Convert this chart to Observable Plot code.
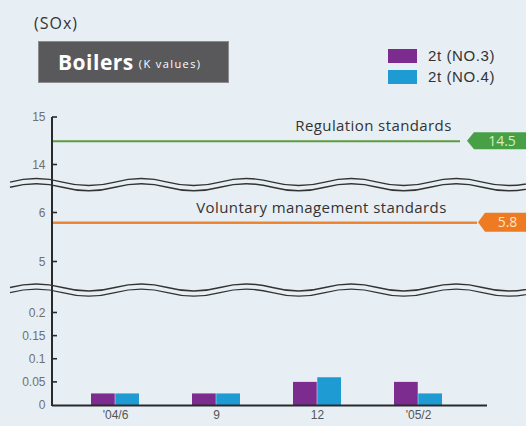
<!DOCTYPE html>
<html>
<head>
<meta charset="utf-8">
<script src="https://cdn.jsdelivr.net/npm/d3@7"></script>
<script src="https://cdn.jsdelivr.net/npm/@observablehq/plot@0.6"></script>
<style>
  body { margin: 0; background: #e7eff4; }
  #wrap { position: relative; width: 526px; height: 426px; overflow: hidden; font-family: "Open Sans", sans-serif; }
  #chart { position: absolute; left: 0; top: 0; }
  #chart g[aria-label^="x-axis"] text { font-size: 12px; fill: #555; }
  .unit { position: absolute; left: 34px; top: 12px; font-size: 16px; letter-spacing: 1px; color: #333; }
  .heading { position: absolute; left: 38px; top: 41px; width: 191px; height: 42px; box-sizing: border-box;
             background: #59595c; border: 1px solid #8c8c8f; display: flex; align-items: center; padding-left: 19px; color: #fff; }
  .heading b { font-size: 21px; font-weight: 700; letter-spacing: 0.5px; }
  .heading span { font-size: 11px; margin-left: 5px; letter-spacing: 1.4px; margin-top: 3px; }
  .key { position: absolute; left: 388px; display: flex; align-items: center; font-family: "Liberation Sans", Arial, sans-serif;
         font-size: 15px; letter-spacing: 0.6px; color: #333; }
  .key i { display: inline-block; width: 29px; height: 14px; margin-right: 11px; }
</style>
</head>
<body>
<div id="wrap">
  <div id="chart"></div>
  <div class="unit">(SOx)</div>
  <div class="heading"><b>Boilers</b><span>(K values)</span></div>
  <div id="legend"></div>
</div>
<script>
// Monthly K values for the two 2t boilers
const periods = ["'04/6", "9", "12", "'05/2"];
const seriesNames = ["2t (NO.3)", "2t (NO.4)"];
const no3Values = [0.025, 0.025, 0.05, 0.05];
const no4Values = [0.025, 0.025, 0.06, 0.025];
const seriesColors = ["#7c2b8e", "#1f9bd4"];

// Standards drawn as horizontal reference lines
const regulationLabel = "Regulation standards";
const regulationValue = 14.5;
const voluntaryLabel = "Voluntary management standards";
const voluntaryValue = 5.8;

// Broken y axis: three segments, with ticks in each
const yTicks = [0, 0.05, 0.1, 0.15, 0.2, 5, 6, 14, 15];
const segmentBreaks = [0, 0.2, 5, 6, 14, 15];

const rows = periods.flatMap((period, i) => [
  {period, series: seriesNames[0], value: no3Values[i]},
  {period, series: seriesNames[1], value: no4Values[i]}
]);

const bandHalf = 24.25;

// Axis line, inward ticks, wavy break marks and value badges
function decorations(index, scales, values, dims) {
  const y = scales.y;
  const g = d3.create("svg:g");
  const ax = dims.marginLeft;
  const ink = "#2a2a2a";
  g.append("line")
    .attr("x1", ax).attr("x2", ax)
    .attr("y1", y(yTicks[yTicks.length - 1])).attr("y2", y(0) + 1)
    .attr("stroke", ink).attr("stroke-width", 2);
  for (const t of yTicks.filter(t => t !== 0)) {
    g.append("line")
      .attr("x1", ax).attr("x2", ax + 5)
      .attr("y1", y(t)).attr("y2", y(t))
      .attr("stroke", ink).attr("stroke-width", 1.6);
  }
  // break marks between 0.2 | 5 and 6 | 14
  const breaks = [[0.2, 5, 0.44], [6, 14, 0.58]];
  for (const [lo, hi, f] of breaks) {
    const yb = y(lo) + (y(hi) - y(lo)) * f;
    const wave = (y0) => {
      let p = `M10,${y0} q26.25,-7 52.5,0`;
      for (let x = 62.5; x < dims.width + 60; x += 52.5) p += " t52.5,0";
      return p;
    };
    for (const off of [-2.6, 2.6]) {
      g.append("path").attr("d", wave(yb + off))
        .attr("fill", "none").attr("stroke", "#333").attr("stroke-width", 1.4);
    }
  }
  const badge = (value, left, h, fill, textFill, label) => {
    const yc = y(value);
    const w = dims.width + 2;
    g.append("path")
      .attr("d", `M${left},${yc} L${left + 7},${yc - h / 2} L${w},${yc - h / 2} L${w},${yc + h / 2} L${left + 7},${yc + h / 2} Z`)
      .attr("fill", fill);
    g.append("text")
      .attr("x", (left + 7 + dims.width) / 2 + 2).attr("y", yc).attr("dy", "0.36em")
      .attr("text-anchor", "middle").attr("fill", textFill)
      .attr("font-family", "Open Sans, sans-serif").attr("font-size", 14)
      .text(label);
  };
  badge(regulationValue, 467, 17, "#47a046", "#d6efb9", String(regulationValue));
  badge(voluntaryValue, 478, 19, "#ee7b22", "#ffe4c4", String(voluntaryValue));
  return g.node();
}

const chart = Plot.plot({
  width: 526,
  height: 426,
  marginLeft: 52,
  marginRight: 39,
  marginTop: 117,
  marginBottom: 21,
  style: {background: "transparent", fontFamily: "Liberation Sans, Arial, sans-serif", fontSize: "12px", color: "#6f6f6f"},
  x: {domain: periods, range: [65, 469], paddingInner: 0.52, paddingOuter: 0.26, label: null, tickSize: 0, tickPadding: 5},
  y: {type: "linear", domain: segmentBreaks, range: [405, 312.5, 261.5, 212.5, 164.5, 117], ticks: yTicks, tickSize: 0, tickPadding: 7,
      label: null, tickFormat: d => String(d)},
  color: {domain: seriesNames, range: seriesColors},
  marks: [
    Plot.barY(rows.filter(d => d.series === seriesNames[0]), {x: "period", y: "value", fill: "series", insetRight: bandHalf}),
    Plot.barY(rows.filter(d => d.series === seriesNames[1]), {x: "period", y: "value", fill: "series", insetLeft: bandHalf}),
    Plot.ruleY([0], {stroke: "#2a2a2a", strokeWidth: 2}),
    Plot.ruleY([regulationValue], {stroke: "#5e9d3f", strokeWidth: 2, insetRight: 27}),
    Plot.ruleY([voluntaryValue], {stroke: "#ef8431", strokeWidth: 2.5, insetRight: 10}),
    Plot.text([regulationValue], {y: d => d, text: () => regulationLabel, frameAnchor: "left", textAnchor: "middle", dx: 321, dy: -15,
      fill: "#333", fontSize: 15, fontFamily: "Open Sans, sans-serif"}),
    Plot.text([voluntaryValue], {y: d => d, text: () => voluntaryLabel, frameAnchor: "left", textAnchor: "middle", dx: 269, dy: -15,
      fill: "#333", fontSize: 15, fontFamily: "Open Sans, sans-serif"}),
    decorations
  ]
});
document.getElementById("chart").append(chart);
chart.querySelectorAll("text").forEach(t => {
  if (t.textContent === regulationLabel || t.textContent === voluntaryLabel) t.style.letterSpacing = "0.4px";
});

// Legend
const legend = document.getElementById("legend");
seriesNames.forEach((name, i) => {
  const row = document.createElement("div");
  row.className = "key";
  row.style.top = (47 + i * 21) + "px";
  const sw = document.createElement("i");
  sw.style.background = seriesColors[i];
  row.append(sw, name);
  legend.append(row);
});
</script>
</body>
</html>
